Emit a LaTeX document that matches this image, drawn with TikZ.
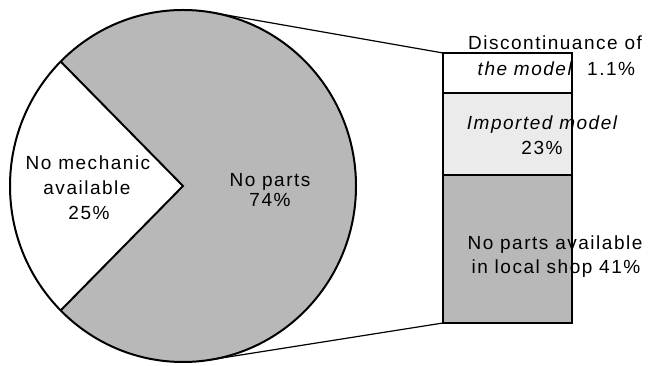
\documentclass[tikz,border=0pt]{standalone}
\usepackage{fontspec}
\setmainfont{Liberation Sans}
\newfontfamily\labfont[LetterSpace=8]{Liberation Sans}
\usetikzlibrary{calc}
\definecolor{densegray}{gray}{0.72}
\definecolor{sparsegray}{gray}{0.92}
\begin{document}
\begin{tikzpicture}[x=1pt,y=1pt,
  outline/.style={line width=2pt},
  link/.style={line width=1.2pt},
  barsec/.style={draw, line width=2pt, minimum width=129pt, inner sep=0pt, outer sep=0pt, anchor=north west},
  lbl/.style={font=\labfont\fontsize{19}{25}\selectfont, inner sep=0pt, anchor=base}]
\useasboundingbox (0,0) rectangle (648,366);
\coordinate (c) at (183,180);
% gray sector
\fill[densegray] (c) -- ++(-135:173pt and 176pt)
  arc[start angle=-135, end angle=135, x radius=173pt, y radius=176pt] -- cycle;
\draw[outline] (c) ellipse [x radius=173pt, y radius=176pt];
\coordinate (w1) at ($(c)+(135:173pt and 176pt)$);
\coordinate (w2) at ($(c)+(225:173pt and 176pt)$);
\draw[outline, line join=miter] (w1) -- (c) -- (w2);
\coordinate (t1) at ($(c)+(80.2:173pt and 176pt)$);
\coordinate (t2) at ($(c)+(-81.1:173pt and 176pt)$);
% bar
\node[barsec, fill=white, minimum height=40pt] (b1) at (443,313) {};
\node[barsec, fill=sparsegray, minimum height=82pt] (b2) at (b1.south west) {};
\node[barsec, fill=densegray, minimum height=148pt] (b3) at (b2.south west) {};
\draw[link] (t1) -- (b1.north west);
\draw[link] (t2) -- (b3.south west);
% pie labels
\node[lbl] (m1) at (88,196) {No mechanic};
\node[lbl] (m2) at (87,171) {available};
\node[lbl] (m3) at (89,146) {25\%};
\node[lbl] (p1) at (270,179) {No parts};
\node[lbl] (p2) at (270,159) {74\%};
% bar labels
\node[lbl] (d1) at (555,316) {Discontinuance of};
\node[lbl, anchor=base east] (d2) at (572,290) {\itshape the model};
\node[lbl, anchor=base west] (d3) at (587,290) {1.1\%};
\node[lbl] (i1) at (542,236) {\itshape Imported model};
\node[lbl] (i2) at (542,211) {23\%};
\node[lbl] (n1) at (555,116) {No parts available};
\node[lbl] (n2) at (556,92) {in local shop 41\%};
\end{tikzpicture}
\end{document}
